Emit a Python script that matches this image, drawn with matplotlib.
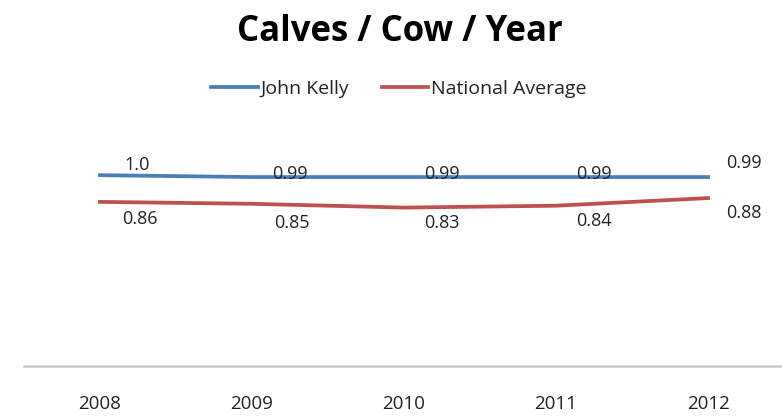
import matplotlib
matplotlib.use("Agg")
import matplotlib.pyplot as plt

years = ["2008", "2009", "2010", "2011", "2012"]
john_kelly = [1.00, 0.99, 0.99, 0.99, 0.99]
national_avg = [0.86, 0.85, 0.83, 0.84, 0.88]
john_labels = ["1.0", "0.99", "0.99", "0.99", "0.99"]
nat_labels = ["0.86", "0.85", "0.83", "0.84", "0.88"]

plt.rcParams['font.family'] = ['Open Sans', 'DejaVu Sans']

W, H = 782, 417
fig = plt.figure(figsize=(W / 100, H / 100), dpi=100)
ax = fig.add_axes([24 / W, (H - 366) / H, 760 / W, (366 - 137) / H])

x = list(range(len(years)))
blue = "#4A7EBB"
red = "#C0504D"
l1, = ax.plot(x, john_kelly, color=blue, lw=2.7, label="John Kelly")
l2, = ax.plot(x, national_avg, color=red, lw=2.7, label="National Average")

ax.set_xlim(-0.5, 4.5)
ax.set_ylim(0, 1.2)
ax.set_yticks([])
ax.set_xticks(x)
ax.set_xticklabels(years, fontsize=13.5, color="#222222")
ax.tick_params(axis="x", length=0, pad=21)
for s in ["top", "left", "right"]:
    ax.spines[s].set_visible(False)
ax.spines["bottom"].set_color("#c8c8c8")
ax.spines["bottom"].set_linewidth(1.8)

# data labels (pixel offsets converted to points)
k = 72 / 100
blue_off = [(37, 10), (38, 3), (38, 3), (38, 3), (36, 14)]
red_off = [(40, -17), (40, -19), (38, -15), (38, -15), (36, -15)]
for i in x:
    ax.annotate(john_labels[i], (x[i], john_kelly[i]),
                xytext=(blue_off[i][0] * k, blue_off[i][1] * k), textcoords="offset points",
                ha="center", va="center", fontsize=13, color="#222222")
    ax.annotate(nat_labels[i], (x[i], national_avg[i]),
                xytext=(red_off[i][0] * k, red_off[i][1] * k), textcoords="offset points",
                ha="center", va="center", fontsize=13, color="#222222")

fig.text(400 / W, 1 - 41 / H, "Calves / Cow / Year", ha="center", va="baseline",
         fontsize=25, fontweight="bold", color="#000000")

leg = fig.legend(handles=[l1, l2], loc="center", bbox_to_anchor=(399 / W, 1 - 89 / H),
                 ncol=2, frameon=False, fontsize=14, handlelength=2.4, handletextpad=0.15,
                 columnspacing=1.65)
for t in leg.get_texts():
    t.set_color("#222222")

fig.savefig("out.png", dpi=100)
